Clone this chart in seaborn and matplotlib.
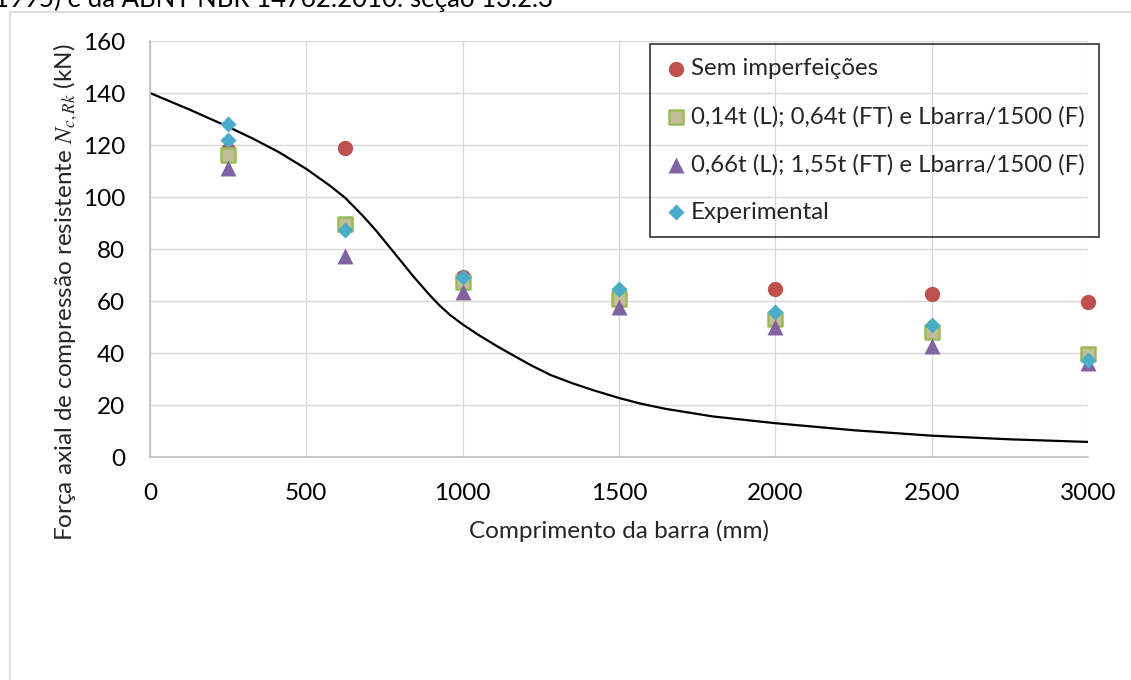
import matplotlib
matplotlib.use("Agg")
import matplotlib.pyplot as plt
import seaborn as sns
from matplotlib.patches import Rectangle

# ---- data ----
lengths = [250, 625, 1000, 1500, 2000, 2500, 3000]
sem_imperf = [118.0, 118.8, 69.4, 63.0, 64.7, 62.7, 59.5]
imp_014t = [116.2, 89.7, 67.4, 60.6, 53.2, 48.2, 39.6]
imp_066t = [111.2, 77.2, 63.6, 57.6, 49.9, 42.7, 36.2]
exp_x = [250, 250, 625, 1000, 1500, 2000, 2500, 3000]
experimental = [128.0, 121.9, 87.3, 69.1, 64.5, 55.9, 50.8, 37.3]

curve_x = [0, 125, 250, 330, 410, 500, 576, 625, 682, 725, 767, 805, 842, 895,
           927, 960, 1000, 1050, 1110, 1215, 1280, 1350, 1420, 1500, 1570, 1650,
           1800, 2000, 2250, 2500, 2750, 3000]
curve_y = [140.0, 133.7, 127.0, 122.4, 117.4, 110.8, 104.3, 99.6, 92.6, 86.8,
           80.6, 75.0, 69.5, 62.2, 58.2, 54.6, 51.0, 47.0, 42.6, 35.5, 31.6,
           28.4, 25.6, 22.7, 20.5, 18.5, 15.6, 13.0, 10.3, 8.2, 6.8, 5.8]

labels = ["Sem imperfeições",
          "0,14t (L); 0,64t (FT) e Lbarra/1500 (F)",
          "0,66t (L); 1,55t (FT) e Lbarra/1500 (F)",
          "Experimental"]
x_ticks = [0, 500, 1000, 1500, 2000, 2500, 3000]
y_ticks = [0, 20, 40, 60, 80, 100, 120, 140, 160]

sns.set_style("white")
plt.rcParams['font.family'] = ['Lato', 'DejaVu Sans']
plt.rcParams['mathtext.fontset'] = 'stix'

W, H = 1131, 680
fig = plt.figure(figsize=(W / 100, H / 100), dpi=100)
fig.patch.set_facecolor("white")

fs = 17.5

# chart area border (extends beyond the crop)
fig.patches.append(Rectangle((10 / W, -0.2), 1.5, 1.2 - 12 / H,
                             transform=fig.transFigure, fill=False,
                             edgecolor="#D9D9D9", linewidth=1.2, zorder=0))
# partly cut caption from the page above
fig.text(-6 / W, 1 - 7 / H, "1995) e da ABNT NBR 14762:2010: seção 13.2.3",
         ha="left", va="baseline", fontsize=18.5, color="black")

L, R, T, B = 150, 1088, 41, 457
ax = fig.add_axes([L / W, 1 - B / H, (R - L) / W, (B - T) / H])

sns.lineplot(x=curve_x, y=curve_y, ax=ax, color="black", linewidth=1.6,
             estimator=None, sort=False, zorder=2)

s_circle = 11.0 ** 2
s_square = 10.2 ** 2
s_tri = 11.5 ** 2
s_diam = 8.2 ** 2
sns.scatterplot(x=lengths, y=sem_imperf, ax=ax, marker="o", s=s_circle,
                color="#C0504D", edgecolor="#C0504D", linewidth=0,
                label=labels[0], clip_on=False, zorder=3)
sns.scatterplot(x=lengths, y=imp_014t, ax=ax, marker="s", s=s_square,
                color="#C4BD97", edgecolor="#9BBB59", linewidth=1.8,
                label=labels[1], clip_on=False, zorder=4)
sns.scatterplot(x=lengths, y=imp_066t, ax=ax, marker="^", s=s_tri,
                color="#8064A2", edgecolor="#8064A2", linewidth=0,
                label=labels[2], clip_on=False, zorder=5)
sns.scatterplot(x=exp_x, y=experimental, ax=ax, marker="D", s=s_diam,
                color="#4BACC6", edgecolor="#4BACC6", linewidth=0,
                label=labels[3], clip_on=False, zorder=6)

ax.set_xlim(0, 3000)
ax.set_ylim(0, 160)
ax.set_xticks(x_ticks)
ax.set_yticks(y_ticks)
ax.set_xticklabels([str(v) for v in x_ticks])
ax.set_yticklabels([str(v) for v in y_ticks])
ax.tick_params(axis="both", length=0, labelsize=fs, colors="black")
ax.tick_params(axis="y", pad=18)
ax.tick_params(axis="x", pad=19)
ax.grid(True, color="#D9D9D9", linewidth=1.0)
ax.set_axisbelow(True)
for side in ["top", "right"]:
    ax.spines[side].set_visible(False)
for side in ["left", "bottom"]:
    ax.spines[side].set_color("#BFBFBF")
    ax.spines[side].set_linewidth(1.2)

ax.set_xlabel("Comprimento da barra (mm)", fontsize=fs)
ax.set_ylabel("Força axial de compressão resistente $N_{c,Rk}$ (kN)", fontsize=fs)
ax.xaxis.set_label_coords(0.5, (B - 531) / (B - T))
ax.yaxis.set_label_coords((66 - L) / (R - L), (B - 292) / (B - T))
ax.xaxis.label.set_va("center")
ax.yaxis.label.set_va("center")

handles, lbls = ax.get_legend_handles_labels()
leg = ax.legend(handles, lbls, loc="upper left",
                bbox_to_anchor=(650 / W, 1 - 44 / H), bbox_transform=fig.transFigure,
                frameon=True, fancybox=False, fontsize=17.3, borderaxespad=0,
                borderpad=0.6, labelspacing=1.1, handlelength=0.95,
                handletextpad=0.15)
leg.get_frame().set_facecolor("none")
leg.get_frame().set_edgecolor("black")
leg.get_frame().set_linewidth(1.2)

fig.savefig("out.png", dpi=100)
